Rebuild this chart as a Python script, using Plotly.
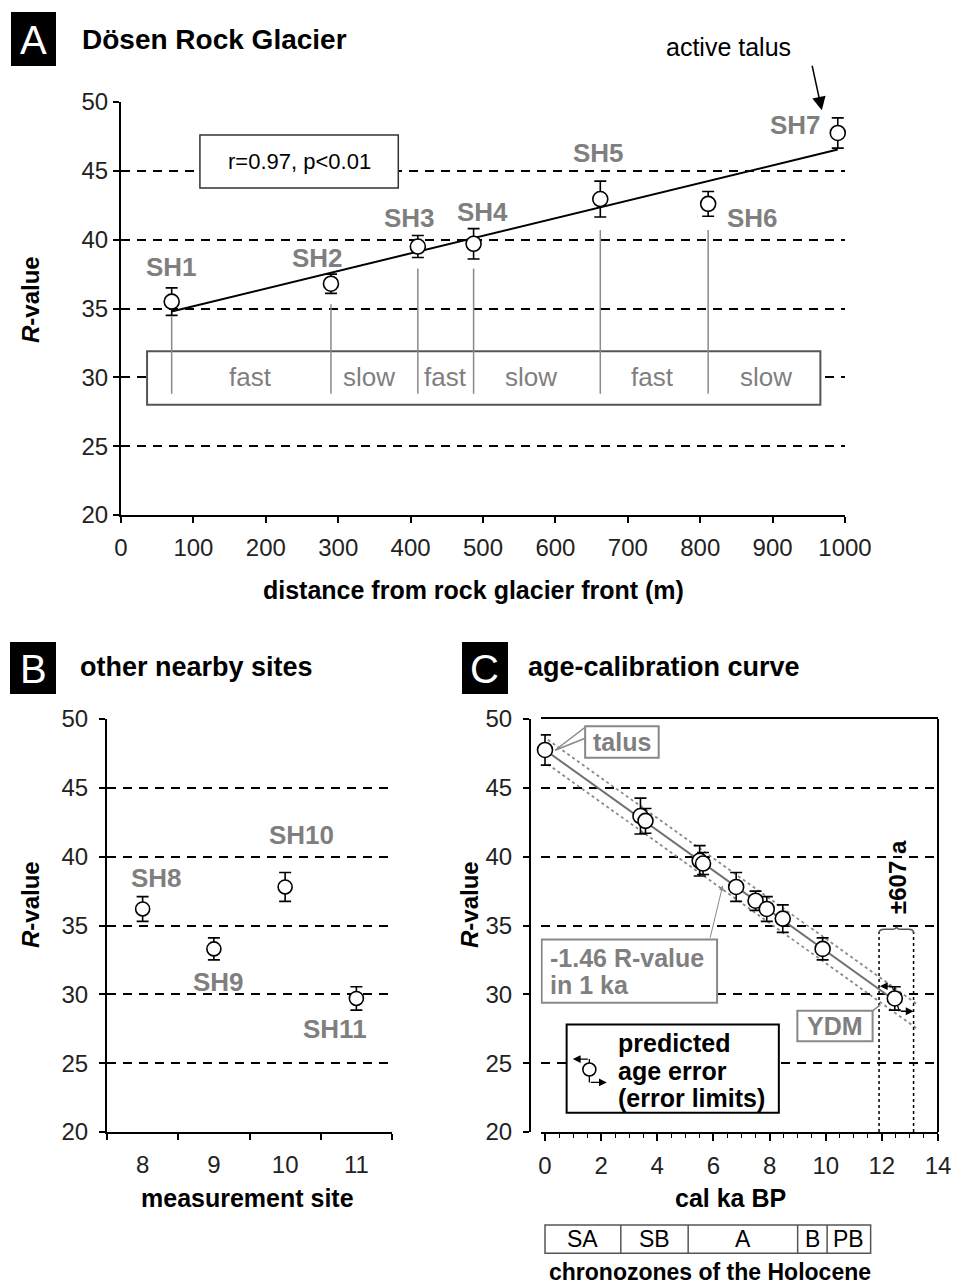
import numpy as np
import plotly.graph_objects as go

W, H = 968, 1286
def px(x): return x / W
def py(y): return 1 - y / H

FONT = "Liberation Sans, Arial, sans-serif"
GREY = "#7f7f7f"
TICKC = "#222222"

# ---------------- Panel A data ----------------
site_a = ["SH1", "SH2", "SH3", "SH4", "SH5", "SH6", "SH7"]
dist_a = [70, 290, 410, 487, 662, 811, 990]
r_a = [35.5, 36.8, 39.5, 39.7, 42.95, 42.6, 47.75]
err_a = [1.0, 0.7, 0.8, 1.1, 1.3, 0.9, 1.1]
label_a_x = [70, 272, 399, 499, 659, 872, 931]
label_a_y = [38.0, 38.7, 41.6, 42.0, 46.3, 41.6, 48.3]
conn_top_a = [34.4, 35.3, 37.9, 37.9, 40.7, 40.7]
conn_bottom_a = 28.8
flow_labels = ["fast", "slow", "fast", "slow", "fast", "slow"]
flow_x = [179, 343, 448, 566, 734, 891]
corr_text = "r=0.97, p<0.01"

# ---------------- Panel B data ----------------
site_b = ["SH8", "SH9", "SH10", "SH11"]
cat_b = ["8", "9", "10", "11"]
r_b = [36.2, 33.3, 37.8, 29.7]
err_b = [0.9, 0.8, 1.05, 0.85]
label_b_x = [0.19, 1.07, 2.23, 2.70]
label_b_y = [38.45, 30.9, 41.6, 27.5]

# ---------------- Panel C data ----------------
age_c = [0.0, 3.40, 3.58, 5.51, 5.63, 6.81, 7.50, 7.90, 8.47, 9.89, 12.46]
r_c = [47.75, 42.95, 42.6, 39.7, 39.5, 37.8, 36.8, 36.2, 35.5, 33.3, 29.7]
err_c = [1.1, 1.3, 0.9, 1.1, 0.8, 1.05, 0.7, 0.9, 1.0, 0.8, 0.85]
calib_r0 = 47.75
calib_slope = -1.46
calib_band = 0.89
calib_x_solid = [0.0, 12.5]
calib_x_dotted = [0.1, 13.3]
err_limits_x = [11.9, 13.13]
chrono_names = ["SA", "SB", "A", "B", "PB"]
chrono_bounds = [0.0, 2.7, 5.1, 9.0, 10.05, 11.6]

fig = go.Figure()

marker = dict(symbol="circle", size=15, color="white", line=dict(color="black", width=1.6))
ebar = dict(type="data", color="black", thickness=1.6, width=6)

# ---- A traces ----
cx, cy = [], []
for x, t in zip(dist_a, conn_top_a):
    cx += [x, x, None]
    cy += [t, conn_bottom_a, None]
fig.add_trace(go.Scatter(x=cx, y=cy, mode="lines", line=dict(color="#8a8a8a", width=1.5),
                         xaxis="x", yaxis="y"))
coef = np.polyfit(dist_a, r_a, 1)
fx = [dist_a[0], dist_a[-1]]
fig.add_trace(go.Scatter(x=fx, y=np.polyval(coef, fx), mode="lines",
                         line=dict(color="black", width=2), xaxis="x", yaxis="y"))
fig.add_trace(go.Scatter(x=dist_a, y=r_a, mode="markers", marker=marker,
                         error_y=dict(ebar, array=err_a), xaxis="x", yaxis="y", cliponaxis=False))

# ---- B traces ----
fig.add_trace(go.Scatter(x=cat_b, y=r_b, mode="markers", marker=dict(marker, size=14),
                         error_y=dict(ebar, array=err_b), xaxis="x2", yaxis="y2"))

# ---- C traces ----
xs = np.array(calib_x_solid)
fig.add_trace(go.Scatter(x=xs, y=calib_r0 + calib_slope * xs, mode="lines",
                         line=dict(color="#707070", width=2), xaxis="x3", yaxis="y3"))
xd = np.array(calib_x_dotted)
for s in (1, -1):
    fig.add_trace(go.Scatter(x=xd, y=calib_r0 + calib_slope * xd + s * calib_band, mode="lines",
                             line=dict(color="#8a8a8a", width=1.8, dash="dot"), xaxis="x3", yaxis="y3"))
for xv in err_limits_x:
    fig.add_trace(go.Scatter(x=[xv, xv], y=[20, 34.55], mode="lines",
                             line=dict(color="black", width=1.5, dash="dot"), xaxis="x3", yaxis="y3"))
# connector stubs for age-error arrows (YDM and legend symbol)
fig.add_trace(go.Scatter(x=[12.42, 12.36, None, 12.56, 12.62, None, 1.58, 1.58, None, 1.58, 1.58],
                         y=[30.3, 30.59, None, 29.2, 28.77, None, 24.95, 25.3, None, 24.1, 23.6],
                         mode="lines", line=dict(color="black", width=1.3), xaxis="x3", yaxis="y3"))
fig.add_trace(go.Scatter(x=age_c, y=r_c, mode="markers", marker=marker,
                         error_y=dict(ebar, array=err_c), xaxis="x3", yaxis="y3", cliponaxis=False))
fig.add_trace(go.Scatter(x=[1.58], y=[24.54], mode="markers", marker=dict(marker, size=13),
                         xaxis="x3", yaxis="y3"))

shapes = []
ann = []

def panel_letter(letter, x0, y0, x1, y1):
    shapes.append(dict(type="rect", xref="paper", yref="paper", x0=px(x0), x1=px(x1), y0=py(y1), y1=py(y0),
                       fillcolor="black", line=dict(width=0)))
    ann.append(dict(xref="paper", yref="paper", x=px((x0 + x1) / 2), y=py((y0 + y1) / 2 + 1), text=letter,
                    showarrow=False, font=dict(size=40, color="white", family=FONT), xanchor="center", yanchor="middle"))

def ptext(text, x, y, size, color="black", xanchor="center", angle=0):
    ann.append(dict(xref="paper", yref="paper", x=px(x), y=py(y), text=text, showarrow=False, textangle=angle,
                    font=dict(size=size, color=color, family=FONT), xanchor=xanchor, yanchor="middle"))

panel_letter("A", 11, 12, 56, 66)
panel_letter("B", 10, 642, 56, 694)
panel_letter("C", 462, 642, 508, 694)
ptext("<b>Dösen Rock Glacier</b>", 80, 40, 28, xanchor="left")
ptext("<b>other nearby sites</b>", 78, 667, 27, xanchor="left")
ptext("<b>age-calibration curve</b>", 526, 667, 27, xanchor="left")

# axis titles
ptext("<b><i>R</i>-value</b>", 30, 300, 24, angle=-90)
ptext("<b>distance from rock glacier front (m)</b>", 473, 590, 25)
ptext("<b><i>R</i>-value</b>", 30, 905, 24, angle=-90)
ptext("<b>measurement site</b>", 248, 1198, 25)
ptext("<b><i>R</i>-value</b>", 469, 905, 24, angle=-90)
ptext("<b>cal ka BP</b>", 730, 1198, 25)
ptext("<b>chronozones of the Holocene</b>", 710, 1272, 23)

# ---- A annotations / shapes ----
shapes.append(dict(type="rect", xref="x", yref="y", x0=36, x1=966, y0=28.0, y1=31.9,
                   line=dict(color="#555555", width=2), fillcolor="white", layer="between"))
shapes.append(dict(type="rect", xref="x", yref="y", x0=109, x1=383, y0=43.75, y1=47.6,
                   line=dict(color="#333333", width=1.5), fillcolor="white", layer="between"))
for t, x in zip(flow_labels, flow_x):
    ann.append(dict(xref="x", yref="y", x=x, y=30.0, text=t, showarrow=False,
                    font=dict(size=26, color=GREY, family=FONT)))
for t, x, y in zip(site_a, label_a_x, label_a_y):
    ann.append(dict(xref="x", yref="y", x=x, y=y, text="<b>%s</b>" % t, showarrow=False,
                    font=dict(size=26, color=GREY, family=FONT)))
ann.append(dict(xref="x", yref="y", x=246, y=45.7, text=corr_text, showarrow=False,
                font=dict(size=22, color="black", family=FONT)))
ptext("active talus", 728, 47, 25)
ann.append(dict(xref="x", yref="y", x=968, y=49.4, ax=-10, ay=-46, text="", showarrow=True,
                arrowhead=2, arrowsize=1.8, arrowwidth=1.5, arrowcolor="black", standoff=0))

# ---- B annotations ----
for t, x, y in zip(site_b, label_b_x, label_b_y):
    ann.append(dict(xref="x2", yref="y2", x=x, y=y, text="<b>%s</b>" % t, showarrow=False,
                    font=dict(size=26, color=GREY, family=FONT)))

# ---- C annotations / shapes ----
shapes.append(dict(type="line", xref="paper", yref="paper", x0=px(938), x1=px(938), y0=py(1132), y1=py(719),
                   line=dict(color="black", width=2)))
# talus label
shapes.append(dict(type="rect", xref="x3", yref="y3", x0=1.43, x1=4.05, y0=47.18, y1=49.47,
                   line=dict(color="#888888", width=2), fillcolor="white", layer="between"))
shapes.append(dict(type="line", xref="x3", yref="y3", x0=0.36, x1=1.43, y0=47.73, y1=49.4,
                   line=dict(color="#888888", width=1.5)))
shapes.append(dict(type="line", xref="x3", yref="y3", x0=0.36, x1=1.43, y0=47.73, y1=48.6,
                   line=dict(color="#888888", width=1.5)))
ann.append(dict(xref="x3", yref="y3", x=2.74, y=48.32, text="<b>talus</b>", showarrow=False,
                font=dict(size=25, color=GREY, family=FONT)))
# slope label
shapes.append(dict(type="rect", xref="x3", yref="y3", x0=-0.12, x1=6.13, y0=29.38, y1=33.98,
                   line=dict(color="#888888", width=2), fillcolor="white", layer="between"))
ann.append(dict(xref="x3", yref="y3", x=0.12, y=32.67, text="<b>-1.46 R-value</b>", showarrow=False,
                xanchor="left", font=dict(size=25, color=GREY, family=FONT)))
ann.append(dict(xref="x3", yref="y3", x=0.12, y=30.71, text="<b>in 1 ka</b>", showarrow=False,
                xanchor="left", font=dict(size=25, color=GREY, family=FONT)))
ann.append(dict(xref="x3", yref="y3", x=6.33, y=37.9, axref="x3", ayref="y3", ax=5.87, ay=34.0,
                text="", showarrow=True, arrowhead=2, arrowsize=1, arrowwidth=1, arrowcolor="#888888", standoff=0))
# YDM label
shapes.append(dict(type="rect", xref="x3", yref="y3", x0=8.99, x1=11.67, y0=26.6, y1=28.8,
                   line=dict(color="#888888", width=2), fillcolor="white", layer="between"))
shapes.append(dict(type="line", xref="x3", yref="y3", x0=11.67, x1=11.95, y0=28.8, y1=29.25,
                   line=dict(color="#888888", width=1.5)))
ann.append(dict(xref="x3", yref="y3", x=10.33, y=27.7, text="<b>YDM</b>", showarrow=False,
                font=dict(size=25, color=GREY, family=FONT)))
# age-error arrows at YDM
for tip_x, tail_x, yy in ((11.93, 12.36, 30.59), (13.13, 12.62, 28.77)):
    ann.append(dict(xref="x3", yref="y3", x=tip_x, y=yy, axref="x3", ayref="y3", ax=tail_x, ay=yy,
                    text="", showarrow=True, arrowhead=2, arrowsize=1.2, arrowwidth=1.3,
                    arrowcolor="black", standoff=0))
# +-607 a bracket
shapes.append(dict(type="path", xref="x3", yref="y3",
                   path="M 11.9,34.45 Q 11.9,34.72 12.1,34.72 L 12.38,34.72 Q 12.5,34.72 12.52,34.9 "
                        "Q 12.54,34.72 12.66,34.72 L 12.95,34.72 Q 13.13,34.72 13.13,34.45",
                   line=dict(color="#555555", width=1.5)))
ann.append(dict(xref="x3", yref="y3", x=12.56, y=38.5, text="<b>±607 a</b>", textangle=-90, showarrow=False,
                font=dict(size=24, color="black", family=FONT)))
# legend box
shapes.append(dict(type="rect", xref="x3", yref="y3", x0=0.77, x1=8.33, y0=21.4, y1=27.8,
                   line=dict(color="black", width=2), fillcolor="white", layer="between"))
for txt, yy in (("predicted", 26.47), ("age error", 24.45), ("(error limits)", 22.45)):
    ann.append(dict(xref="x3", yref="y3", x=2.54, y=yy, text="<b>%s</b>" % txt, showarrow=False,
                    xanchor="left", font=dict(size=25, color="black", family=FONT)))
for tip_x, tail_x, yy in ((0.99, 1.58, 25.3), (2.2, 1.58, 23.6)):
    ann.append(dict(xref="x3", yref="y3", x=tip_x, y=yy, axref="x3", ayref="y3", ax=tail_x, ay=yy,
                    text="", showarrow=True, arrowhead=2, arrowsize=1.2, arrowwidth=1.3,
                    arrowcolor="black", standoff=0))
# chronozones bar
ybar0, ybar1 = py(1253.3), py(1225)
shapes.append(dict(type="rect", xref="x3", yref="paper", x0=chrono_bounds[0], x1=chrono_bounds[-1],
                   y0=ybar0, y1=ybar1, line=dict(color="#555555", width=1.5)))
for b in chrono_bounds[1:-1]:
    shapes.append(dict(type="line", xref="x3", yref="paper", x0=b, x1=b, y0=ybar0, y1=ybar1,
                       line=dict(color="#555555", width=1.5)))
for name, a, b in zip(chrono_names, chrono_bounds[:-1], chrono_bounds[1:]):
    ann.append(dict(xref="x3", yref="paper", x=(a + b) / 2, y=(ybar0 + ybar1) / 2, text=name, showarrow=False,
                    yanchor="middle", font=dict(size=23, color="black", family=FONT)))

yax_common = dict(range=[20, 50], dtick=5, tick0=20, ticks="outside", ticklen=6, tickwidth=1.5, tickcolor="black",
                  showline=True, linecolor="black", linewidth=2, showgrid=True, gridcolor="black",
                  gridwidth=1.8, griddash="9px,7px", zeroline=False, automargin=False,
                  tickfont=dict(size=24, color=TICKC, family=FONT))
xax_common = dict(ticks="outside", ticklen=6, tickwidth=1.5, tickcolor="black", showline=True, linecolor="black",
                  linewidth=2, showgrid=False, zeroline=False, automargin=False,
                  tickfont=dict(size=24, color=TICKC, family=FONT), ticklabelstandoff=8)

fig.update_layout(
    template="none",
    width=W, height=H, margin=dict(l=0, r=0, t=0, b=0, pad=0, autoexpand=False),
    paper_bgcolor="white", plot_bgcolor="white", showlegend=False,
    font=dict(family=FONT), hovermode=False,
    xaxis=dict(xax_common, domain=[px(121), px(845)], range=[0, 1000], tickmode="linear", tick0=0, dtick=100,
               anchor="y", ticklabelstandoff=4),
    yaxis=dict(yax_common, domain=[py(515), py(102)], anchor="x"),
    xaxis2=dict(xax_common, domain=[px(107), px(392)], type="category", categoryorder="array",
                categoryarray=cat_b, tickson="boundaries", range=[-0.5, 3.5], anchor="y2", ticklabelstandoff=10),
    yaxis2=dict(yax_common, domain=[py(1132), py(719)], anchor="x2", ticklabelstandoff=6),
    xaxis3=dict(xax_common, domain=[px(540.8), px(938)], range=[-0.15, 14], tickmode="linear", tick0=0, dtick=2,
                ticklen=7, mirror=True, anchor="y3", ticklabelstandoff=4,
                minor=dict(ticks="outside", ticklen=4, tickwidth=1.2, tickcolor="black", dtick=0.5, tick0=0)),
    yaxis3=dict(yax_common, domain=[py(1132), py(719)], anchor="free", position=px(530),
                ticklabelstandoff=6),
    shapes=shapes, annotations=ann,
)

fig.write_html("out.html")
